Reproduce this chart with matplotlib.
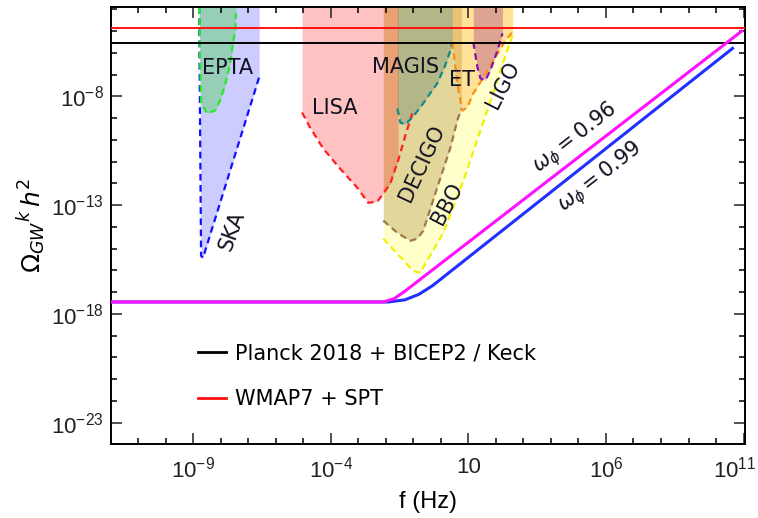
import matplotlib
matplotlib.use("Agg")
import numpy as np
from matplotlib import pyplot as plt
from matplotlib import ticker
from matplotlib.transforms import ScaledTranslation

plt.rcParams['font.family'] = ['Liberation Sans', 'DejaVu Sans']
plt.rcParams['mathtext.fontset'] = 'dejavusans'

# all values are log10(f / Hz) and log10(Omega h^2)
f_min, f_max = -12.0, 11.05
o_min, o_max = -24.0, -3.9

ska_f = [-8.78, -8.71, -8.64, -6.60]
ska_o = [o_max, -15.33, -15.42, -7.12]

epta_f = [-8.78, -8.71, -8.49, -8.20, -8.02, -7.84, -7.65, -7.55, -7.47, -7.44]
epta_o = [o_max, -8.32, -8.78, -8.65, -8.18, -7.49, -6.48, -5.56, -4.96, -4.18]

lisa_f = [-5.04, -4.75, -4.27, -3.66, -3.04, -2.64, -2.31, -2.09, -1.84, -1.55, -1.29, -1.04]
lisa_o = [-8.74, -9.43, -10.40, -11.32, -12.19, -12.89, -12.84, -12.47, -12.01, -10.95, -9.80, -8.78]
lisa_fill_n = 10  # pink filling stops where MAGIS begins

decigo_f = [-2.09, -1.58, -1.11, -0.86, -0.64, -0.13, 0.35, 0.60, 0.75]
decigo_o = [-13.71, -14.27, -14.64, -14.54, -14.18, -12.19, -10.35, -9.11, -8.55]

bbo_f = [-2.09, -1.58, -1.00, -0.75, 0.09, 0.82, 1.44, 1.91, 2.27, 2.64]
bbo_o = [-14.54, -15.24, -16.02, -16.11, -14.27, -11.87, -9.57, -7.82, -6.43, -5.05]

magis_f = [-1.58, -1.47, -1.29, -1.04, -0.75, -0.13, 0.16, 0.35, 0.42]
magis_o = [-8.55, -9.20, -9.29, -8.97, -8.51, -7.40, -6.57, -5.88, -5.51]

et_f = [0.42, 0.53, 0.64, 0.78, 0.96, 1.18, 1.55, 1.91, 2.35, 2.60]
et_o = [-5.51, -6.66, -7.72, -8.65, -8.51, -7.86, -7.12, -6.34, -5.42, -5.05]

ligo_f = [1.18, 1.33, 1.44, 1.62, 1.80, 2.06, 2.24]
ligo_o = [-5.51, -6.66, -7.17, -7.26, -6.80, -5.88, -5.10]

w096_f = [-12.0, -2.1, -1.7, -1.3, 10.93]
w096_o = [-17.45, -17.45, -17.30, -16.95, -5.0]
w099_f = [-12.0, -1.9, -1.3, -0.8, -0.3, 10.6]
w099_o = [-17.45, -17.45, -17.35, -17.10, -16.70, -5.79]

planck_o = -5.56
wmap_o = -4.87

x_major = [-9, -4, 1, 6, 11]
x_labels = [r'$\mathdefault{10^{-9}}$', r'$\mathdefault{10^{-4}}$', '10',
            r'$\mathdefault{10^{6}}$', r'$\mathdefault{10^{11}}$']
y_major = [-8, -13, -18, -23]
y_labels = [r'$\mathdefault{10^{-8}}$', r'$\mathdefault{10^{-13}}$',
            r'$\mathdefault{10^{-18}}$', r'$\mathdefault{10^{-23}}$']

# name, f, omega, line colour, fill colour, fill alpha, fill points
detectors = [
    ("SKA", ska_f, ska_o, "#1010ff", "#0000ff", 0.20, None),
    ("EPTA", epta_f, epta_o, "#22ee22", "#32d232", 0.35, None),
    ("BBO", bbo_f, bbo_o, "#f0f000", "#ffff00", 0.20, None),
    ("DECIGO", decigo_f, decigo_o, "#a07850", "#a07828", 0.30, None),
    ("LISA", lisa_f, lisa_o, "#ff2020", "#ff0000", 0.24, lisa_fill_n),
    ("MAGIS", magis_f, magis_o, "#108a8a", "#285a50", 0.25, None),
    ("ET", et_f, et_o, "#ff8c10", "#ff8c00", 0.25, None),
    ("LIGO", ligo_f, ligo_o, "#8a10b0", "#800080", 0.27, None),
]

fig = plt.figure(figsize=(7.58, 5.18), dpi=100)
ax = fig.add_axes([0.1458, 0.142, 0.837, 0.844])

for name, f, o, lc, fc, a, n in detectors:
    f = np.array(f)
    o = np.array(o)
    k = len(f) if n is None else n
    ax.fill_between(10**f[:k], 10**o[:k], 10**o_max, color=fc, alpha=a, lw=0, zorder=1)
for name, f, o, lc, fc, a, n in detectors:
    ax.plot(10**np.array(f), 10**np.array(o), color=lc, lw=1.6,
            linestyle=(0, (3, 2)), zorder=2)

ax.axhline(10**planck_o, color="black", lw=1.4, zorder=3)
ax.axhline(10**wmap_o, color="#ff1010", lw=1.4, zorder=3)
ax.plot(10**np.array(w099_f), 10**np.array(w099_o), color="#2030ff", lw=2.2, zorder=4)
ax.plot(10**np.array(w096_f), 10**np.array(w096_o), color="#ff10ff", lw=2.2, zorder=4)

lab = dict(fontsize=15, family='DejaVu Sans', color="#111122", ha='center', va='center', zorder=5)
ax.text(10**-7.73, 10**-6.71, "EPTA", **lab)
ax.text(10**-7.58, 10**-14.17, "SKA", rotation=70, **lab)
ax.text(10**-3.84, 10**-8.51, "LISA", **lab)
ax.text(10**-1.29, 10**-6.66, "MAGIS", **lab)
ax.text(10**0.78, 10**-7.26, "ET", **lab)
ax.text(10**2.27, 10**-7.49, "LIGO", rotation=63, **lab)
ax.text(10**-0.67, 10**-11.09, "DECIGO", rotation=65, **lab)
ax.text(10**0.24, 10**-12.93, "BBO", rotation=62, **lab)
ax.text(10**4.89, 10**-9.94, r"$\omega_\phi = 0.96$", rotation=38, **lab)
ax.text(10**5.80, 10**-11.73, r"$\omega_\phi = 0.99$", rotation=38, **lab)

ax.plot([], [], color="black", lw=2, label="Planck 2018 + BICEP2 / Keck")
ax.plot([], [], color="#ff1010", lw=2, label="WMAP7 + SPT")
ax.legend(loc='upper left', bbox_to_anchor=(0.138, 0.232), frameon=False,
          handlelength=1.35, handletextpad=0.4, labelspacing=1.25,
          borderaxespad=0, borderpad=0, prop={'family': 'DejaVu Sans', 'size': 15})

ax.set_xscale('log')
ax.set_yscale('log')
ax.set_xlim(10**f_min, 10**f_max)
ax.set_ylim(10**o_min, 10**o_max)

ax.xaxis.set_major_locator(ticker.FixedLocator([10.0**v for v in x_major]))
ax.xaxis.set_major_formatter(ticker.FixedFormatter(x_labels))
ax.xaxis.set_minor_locator(ticker.LogLocator(base=10, subs=(1.0,), numticks=100))
ax.xaxis.set_minor_formatter(ticker.NullFormatter())
ax.yaxis.set_major_locator(ticker.FixedLocator([10.0**v for v in y_major]))
ax.yaxis.set_major_formatter(ticker.FixedFormatter(y_labels))
ax.yaxis.set_minor_locator(ticker.LogLocator(base=10, subs=(1.0,), numticks=100))
ax.yaxis.set_minor_formatter(ticker.NullFormatter())

ax.tick_params(which='both', direction='in', top=True, right=True, width=1.1)
ax.tick_params(which='major', length=8, labelsize=16, colors="#222222")
ax.tick_params(which='minor', length=4)
ax.tick_params(axis='x', which='major', pad=9)
ax.tick_params(axis='y', which='major', pad=5)
for s in ax.spines.values():
    s.set_linewidth(1.4)

# keep the last frequency label inside the canvas
last = ax.get_xticklabels()[-1]
last.set_transform(last.get_transform() + ScaledTranslation(-0.09, 0, fig.dpi_scale_trans))

ax.set_xlabel("f (Hz)", fontsize=17, labelpad=6)
ax.set_ylabel(r"$\Omega_{GW}{}^{k}\, h^2$", fontsize=18, labelpad=2)

fig.savefig("out.png", dpi=100)
